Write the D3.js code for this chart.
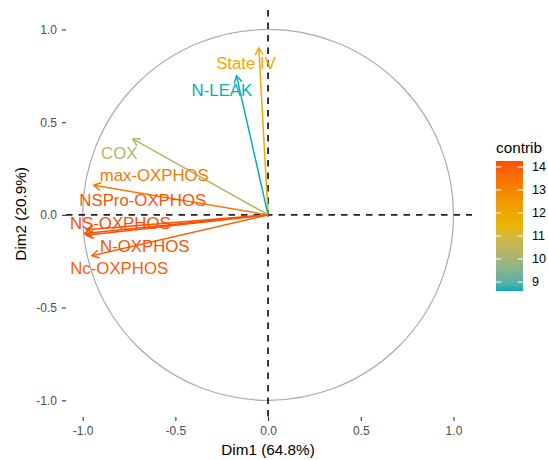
<!DOCTYPE html>
<html>
<head>
<meta charset="utf-8">
<script src="https://cdn.jsdelivr.net/npm/d3@7"></script>
<style>
  html, body { margin: 0; padding: 0; background: #fff; }
  svg { display: block; font-family: "Liberation Sans", Arial, Helvetica, sans-serif; }
</style>
</head>
<body>
<svg id="chart" width="548" height="460"></svg>
<script>
// Variables of the PCA and their coordinates on the first two dimensions
const varNames = ["State IV", "N-LEAK", "COX", "max-OXPHOS", "NSPro-OXPHOS", "NS-OXPHOS", "N-OXPHOS", "Nc-OXPHOS"];
const dim1 = [-0.05, -0.17, -0.73, -0.94, -0.98, -0.99, -0.98, -0.95];
const dim2 = [0.90, 0.75, 0.41, 0.16, -0.08, -0.10, -0.11, -0.22];
// Contribution (%) of each variable to Dim1-Dim2
const contrib = [11.9, 8.61, 10.3, 13.3, 14.1, 14.26, 14.2, 13.9];
// Repelled label anchors (data units)
const labelDim1 = [-0.119, -0.249, -0.803, -0.614, -0.676, -0.797, -0.665, -0.803];
const labelDim2 = [0.819, 0.674, 0.334, 0.216, 0.081, -0.043, -0.167, -0.286];

const axisTicks = [-1, -0.5, 0, 0.5, 1];
const legendTicks = [9, 10, 11, 12, 13, 14];
const gradientColours = ["#00AFBB", "#E7B800", "#FC4E07"];

const svg = d3.select("#chart");
const panel = { left: 66, right: 472, top: 10, bottom: 417 };

const x = d3.scaleLinear().domain([-1.09, 1.10]).range([panel.left, panel.right]);
const y = d3.scaleLinear().domain([-1.09, 1.105]).range([panel.bottom, panel.top]);

const cMin = d3.min(contrib), cMax = d3.max(contrib);
const colour = d3.scaleLinear()
  .domain([cMin, (cMin + cMax) / 2, cMax])
  .range(gradientColours)
  .interpolate(d3.interpolateLab);

// Correlation circle
svg.append("ellipse")
  .attr("cx", x(0)).attr("cy", y(0))
  .attr("rx", x(1) - x(0)).attr("ry", y(0) - y(1))
  .attr("fill", "none").attr("stroke", "#AAAAAA").attr("stroke-width", 1.2);

// Dashed reference lines through the origin
svg.append("line")
  .attr("x1", panel.left).attr("x2", panel.right)
  .attr("y1", y(0)).attr("y2", y(0))
  .attr("stroke", "#222").attr("stroke-width", 1.8).attr("stroke-dasharray", "6.5,6");
svg.append("line")
  .attr("y1", panel.top).attr("y2", panel.bottom)
  .attr("x1", x(0)).attr("x2", x(0))
  .attr("stroke", "#222").attr("stroke-width", 1.8).attr("stroke-dasharray", "6.5,6");

// Arrows
const vars = varNames.map((name, i) => ({ name, d1: dim1[i], d2: dim2[i], c: contrib[i], l1: labelDim1[i], l2: labelDim2[i] }));
const headLen = 8, headAng = Math.PI / 6;
const arrows = svg.append("g");
vars.forEach(v => {
  const x0 = x(0), y0 = y(0), x1 = x(v.d1), y1 = y(v.d2);
  const ang = Math.atan2(y1 - y0, x1 - x0);
  const col = colour(v.c);
  arrows.append("line")
    .attr("x1", x0).attr("y1", y0).attr("x2", x1).attr("y2", y1)
    .attr("stroke", col).attr("stroke-width", 1.5);
  const p1 = [x1 - headLen * Math.cos(ang - headAng), y1 - headLen * Math.sin(ang - headAng)];
  const p2 = [x1 - headLen * Math.cos(ang + headAng), y1 - headLen * Math.sin(ang + headAng)];
  arrows.append("path")
    .attr("d", `M${p1[0]},${p1[1]}L${x1},${y1}L${p2[0]},${p2[1]}`)
    .attr("fill", "none").attr("stroke", col).attr("stroke-width", 1.5)
    .attr("stroke-linejoin", "miter");
});

// Variable labels
svg.append("g").selectAll("text").data(vars).join("text")
  .attr("x", d => x(d.l1)).attr("y", d => y(d.l2))
  .attr("dy", "0.35em")
  .attr("text-anchor", "middle")
  .attr("font-size", 16.8)
  .attr("fill", d => colour(d.c))
  .text(d => d.name);

// Axes
const fmt = d => d.toFixed(1);
const xAxis = svg.append("g").attr("transform", `translate(0,${panel.bottom})`)
  .call(d3.axisBottom(x).tickValues(axisTicks).tickFormat(fmt).tickSize(4).tickPadding(5));
const yAxis = svg.append("g").attr("transform", `translate(${panel.left},0)`)
  .call(d3.axisLeft(y).tickValues(axisTicks).tickFormat(fmt).tickSize(4).tickPadding(5));
[xAxis, yAxis].forEach(g => {
  g.select(".domain").remove();
  g.selectAll(".tick line").attr("stroke", "#333").attr("stroke-width", 1.1);
  g.selectAll(".tick text").attr("fill", "#4D4D4D").attr("font-size", 12)
    .attr("font-family", "Liberation Sans, Arial, sans-serif");
});

// Axis titles
svg.append("text")
  .attr("x", x(0)).attr("y", 455)
  .attr("text-anchor", "middle").attr("font-size", 15.3).attr("fill", "#000")
  .text("Dim1 (64.8%)");
svg.append("text")
  .attr("transform", `translate(26,${y(0) - 1}) rotate(-90)`)
  .attr("text-anchor", "middle").attr("font-size", 15.3).attr("fill", "#000")
  .text("Dim2 (20.9%)");

// Colour bar legend
const bar = { x: 496, w: 27, top: 161, bottom: 291 };
const ly = d3.scaleLinear().domain([cMin, cMax]).range([bar.bottom, bar.top]);
const defs = svg.append("defs");
const grad = defs.append("linearGradient").attr("id", "contribGrad")
  .attr("x1", 0).attr("y1", 1).attr("x2", 0).attr("y2", 0);
d3.range(0, 1.0001, 0.05).forEach(t => {
  grad.append("stop").attr("offset", t).attr("stop-color", colour(cMin + t * (cMax - cMin)));
});
svg.append("rect")
  .attr("x", bar.x).attr("y", bar.top).attr("width", bar.w).attr("height", bar.bottom - bar.top)
  .attr("fill", "url(#contribGrad)");
const lt = svg.append("g");
legendTicks.forEach(v => {
  lt.append("line").attr("x1", bar.x).attr("x2", bar.x + bar.w / 5)
    .attr("y1", ly(v)).attr("y2", ly(v)).attr("stroke", "#fff").attr("stroke-width", 1);
  lt.append("line").attr("x1", bar.x + bar.w - bar.w / 5).attr("x2", bar.x + bar.w)
    .attr("y1", ly(v)).attr("y2", ly(v)).attr("stroke", "#fff").attr("stroke-width", 1);
  lt.append("text").attr("x", 532).attr("y", ly(v)).attr("dy", "0.35em")
    .attr("font-size", 12.5).attr("fill", "#000").text(v);
});
svg.append("text").attr("x", 496).attr("y", 153)
  .attr("font-size", 15.3).attr("fill", "#000").text("contrib");
</script>
</body>
</html>
